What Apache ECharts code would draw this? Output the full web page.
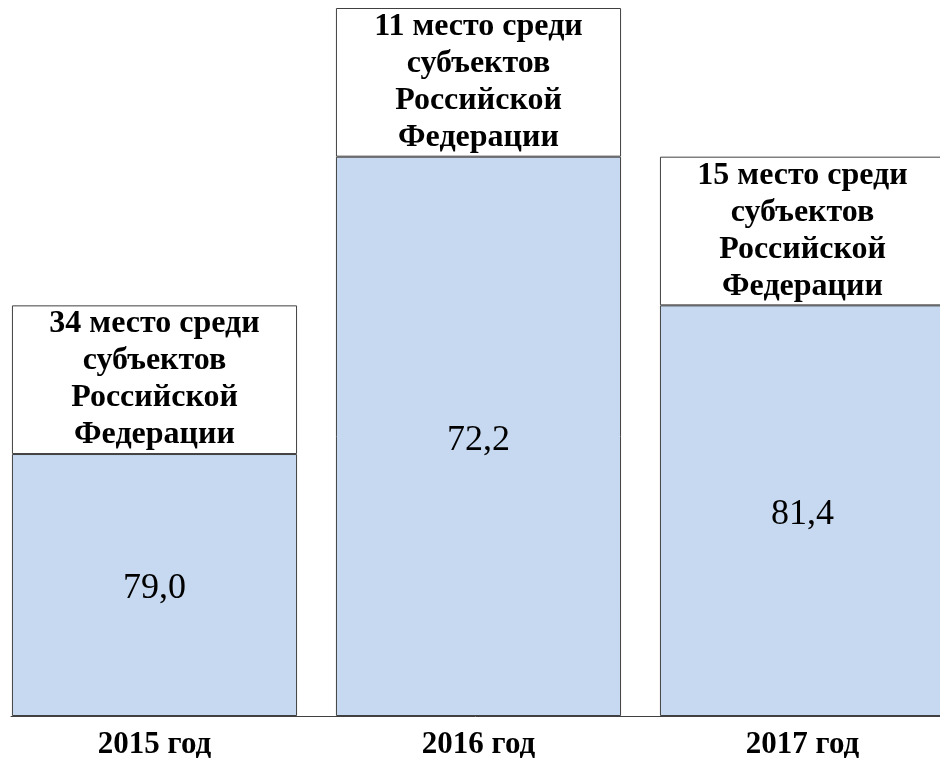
<!DOCTYPE html>
<html>
<head>
<meta charset="utf-8">
<script src="https://cdn.jsdelivr.net/npm/echarts@6/dist/echarts.min.js"></script>
<style>
html, body { margin: 0; padding: 0; background: #fff; }
#chart { width: 940px; height: 758px; }
</style>
</head>
<body>
<div id="chart"></div>
<script>
/* данные */
var years = ['2015 год', '2016 год', '2017 год'];
var blueHeights = [37, 79, 58];          // высота голубой части (по рисунку)
var boxHeights = [21, 21, 21];           // белая рамка с подписью
var valueLabels = ['79,0', '72,2', '81,4'];
var rankLabels = [
    '34 место среди\nсубъектов\nРоссийской\nФедерации',
    '11 место среди\nсубъектов\nРоссийской\nФедерации',
    '15 место среди\nсубъектов\nРоссийской\nФедерации'
];

var serif = "'Liberation Serif', 'Times New Roman', serif";
var edge = '#404040';

var myChart = echarts.init(document.getElementById('chart'));

var option = {
    animation: false,
    grid: [
        { left: -7.5, width: 972, top: 8, bottom: 42, outerBoundsMode: 'none' },
        // только линия оси, начинается у левого края первого столбца
        { left: 11, right: 0, top: 8, bottom: 42, outerBoundsMode: 'none' }
    ],
    xAxis: [{
        type: 'category',
        data: years,
        gridIndex: 0,
        axisLine: { show: false },
        axisTick: { show: false },
        axisLabel: {
            margin: 13,
            color: '#000',
            fontFamily: serif,
            fontWeight: 'bold',
            fontSize: 31
        }
    }, {
        type: 'category',
        data: [],
        gridIndex: 1,
        axisLine: { show: true, lineStyle: { color: edge, width: 1 } },
        axisTick: { show: false },
        axisLabel: { show: false }
    }],
    yAxis: [{
        type: 'value',
        gridIndex: 0,
        min: 0,
        max: 100,
        show: false
    }, {
        type: 'value',
        gridIndex: 1,
        min: 0,
        max: 100,
        show: false
    }],
    series: [{
        name: 'значение',
        type: 'bar',
        stack: 'total',
        barCategoryGap: '12%',
        data: blueHeights,
        itemStyle: { color: '#c6d9f1', borderColor: edge, borderWidth: 1 },
        label: {
            show: true,
            position: 'inside',
            offset: [0, 4],
            formatter: function (p) { return valueLabels[p.dataIndex]; },
            color: '#000',
            fontFamily: serif,
            fontSize: 36
        }
    }, {
        name: 'место',
        type: 'bar',
        stack: 'total',
        barCategoryGap: '12%',
        data: boxHeights,
        itemStyle: { color: '#fff', borderColor: edge, borderWidth: 1 },
        label: {
            show: true,
            position: 'inside',
            formatter: function (p) { return rankLabels[p.dataIndex]; },
            color: '#000',
            fontFamily: serif,
            fontWeight: 'bold',
            fontSize: 32,
            lineHeight: 37
        }
    }]
};

myChart.setOption(option);
</script>
</body>
</html>
